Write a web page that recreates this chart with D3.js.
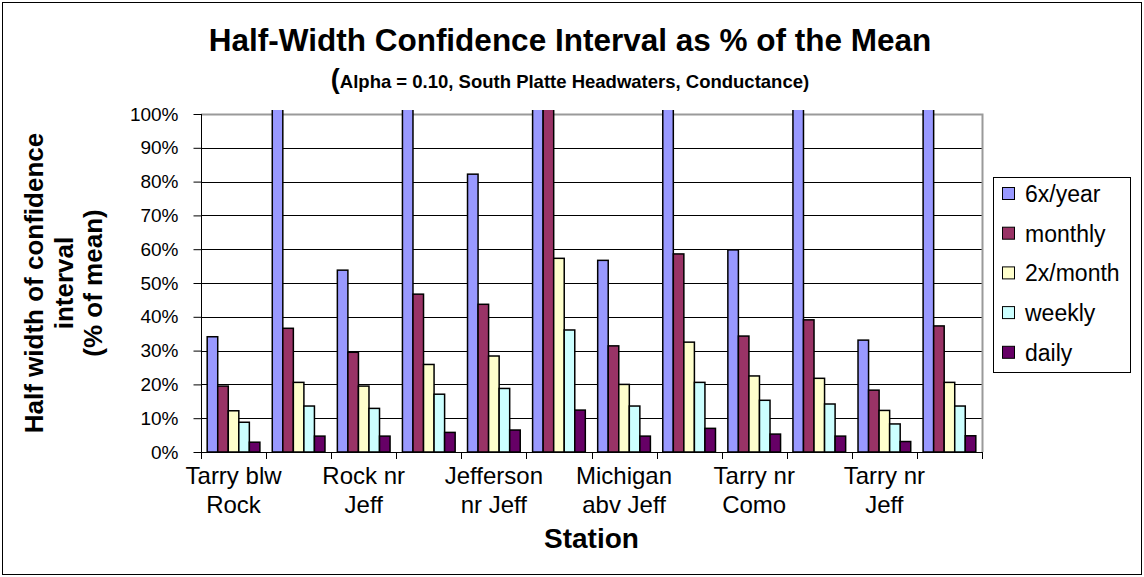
<!DOCTYPE html>
<html>
<head>
<meta charset="utf-8">
<script src="https://cdn.jsdelivr.net/npm/d3@7"></script>
<style>
  html, body { margin: 0; padding: 0; background: #fff; }
  svg { display: block; font-family: "Liberation Sans", Arial, sans-serif; }
</style>
</head>
<body>
<svg id="chart" width="1144" height="577"></svg>
<script>
// Station groups along the x axis (every other name is shown as a tick label)
const stations = [0, 1, 2, 3, 4, 5, 6, 7, 8, 9, 10, 11];
const stationLabels = [
  ["Tarry blw", "Rock"], null,
  ["Rock nr", "Jeff"], null,
  ["Jefferson", "nr Jeff"], null,
  ["Michigan", "abv Jeff"], null,
  ["Tarry nr", "Como"], null,
  ["Tarry nr", "Jeff"], null
];

// Sampling frequencies (series)
const seriesNames = ["6x/year", "monthly", "2x/month", "weekly", "daily"];
const seriesColors = ["#9999FF", "#993366", "#FFFFCC", "#CCFFFF", "#660066"];

// Half-width of the 90% confidence interval, % of mean, per station
const sixPerYear  = [34.1, 120, 53.8, 120, 82.2, 120, 56.7, 120, 59.8, 120, 33.1, 120];
const monthly     = [19.5, 36.6, 29.5, 46.7, 43.7, 120, 31.4, 58.6, 34.3, 39.1, 18.3, 37.3];
const twoPerMonth = [12.2, 20.6, 19.5, 25.9, 28.4, 57.3, 20.0, 32.5, 22.5, 21.8, 12.3, 20.6];
const weekly      = [8.8, 13.6, 12.9, 17.1, 18.8, 36.1, 13.6, 20.6, 15.3, 14.2, 8.3, 13.6];
const daily       = [2.9, 4.7, 4.7, 5.8, 6.5, 12.4, 4.7, 7.0, 5.3, 4.7, 3.1, 4.8];
const seriesValues = [sixPerYear, monthly, twoPerMonth, weekly, daily];

const yTicks = [0, 10, 20, 30, 40, 50, 60, 70, 80, 90, 100];

const svg = d3.select("#chart");
const W = 1144, H = 577;
const plot = { left: 201, right: 982, top: 114, bottom: 452 };

svg.append("rect").attr("x", 0).attr("y", 0).attr("width", W).attr("height", H).attr("fill", "#fff");
svg.append("rect").attr("x", 2.5).attr("y", 2.5).attr("width", W - 5).attr("height", H - 5)
  .attr("fill", "none").attr("stroke", "#000").attr("stroke-width", 1);

const x = d3.scaleBand().domain(stations).range([plot.left, plot.right]).padding(0);
const xs = d3.scaleBand().domain(seriesNames).range([0, x.bandwidth()]).paddingInner(0).paddingOuter(0.587);
const y = d3.scaleLinear().domain([0, 100]).range([plot.bottom, plot.top]);

// Gridlines
svg.append("g").selectAll("line").data(yTicks.filter(t => t > 0 && t < 100)).join("line")
  .attr("x1", plot.left).attr("x2", plot.right)
  .attr("y1", d => Math.round(y(d)) + 0.5).attr("y2", d => Math.round(y(d)) + 0.5)
  .attr("stroke", "#000").attr("stroke-width", 1);

// Plot area frame (top and right)
svg.append("path")
  .attr("d", `M${plot.left},${plot.top + 0.5}H${plot.right + 0.5}V${plot.bottom}`)
  .attr("fill", "none").attr("stroke", "#9a9a9a").attr("stroke-width", 2);

// Bars, clipped a little above the 100% line
svg.append("defs").append("clipPath").attr("id", "plotClip")
  .append("rect").attr("x", plot.left).attr("y", plot.top - 4)
  .attr("width", plot.right - plot.left).attr("height", plot.bottom - plot.top + 4);

const barData = [];
stations.forEach((s, i) => {
  seriesNames.forEach((name, k) => {
    barData.push({ station: s, series: name, value: seriesValues[k][i], color: seriesColors[k] });
  });
});

svg.append("g").attr("clip-path", "url(#plotClip)")
  .selectAll("rect").data(barData).join("rect")
  .attr("x", d => x(d.station) + xs(d.series))
  .attr("y", d => y(d.value))
  .attr("width", xs.bandwidth())
  .attr("height", d => plot.bottom - y(d.value))
  .attr("fill", d => d.color)
  .attr("stroke", "#000").attr("stroke-width", 1.5);

// Y axis
const yAxis = d3.axisLeft(y).tickValues(yTicks).tickFormat(d => d + "%").tickSize(8).tickPadding(15);
const yg = svg.append("g").attr("transform", `translate(${plot.left + 0.5},0)`).call(yAxis);
yg.select(".domain").attr("stroke", "#000").attr("d", `M0,${plot.top}V${plot.bottom + 0.5}`);
yg.selectAll(".tick line").attr("stroke", "#000");
yg.selectAll(".tick text").attr("font-size", 19).attr("fill", "#000")
  .attr("font-family", "'Liberation Sans', Arial, sans-serif");

// X axis: ticks between station groups
const xg = svg.append("g");
xg.append("line").attr("x1", plot.left).attr("x2", plot.right + 1)
  .attr("y1", plot.bottom + 0.5).attr("y2", plot.bottom + 0.5).attr("stroke", "#000");
const boundaries = stations.map(s => x(s)).concat([plot.right]);
xg.selectAll("line.tk").data(boundaries).join("line").attr("class", "tk")
  .attr("x1", d => Math.round(d) + 0.5).attr("x2", d => Math.round(d) + 0.5)
  .attr("y1", plot.bottom).attr("y2", plot.bottom + 7).attr("stroke", "#000");

const labelG = xg.selectAll("text.xl").data(stations.filter(s => stationLabels[s])).join("text")
  .attr("class", "xl")
  .attr("x", s => x(s) + x.bandwidth() / 2)
  .attr("y", 484)
  .attr("text-anchor", "middle")
  .attr("font-size", 24);
labelG.selectAll("tspan").data(s => stationLabels[s]).join("tspan")
  .attr("x", function () { return d3.select(this.parentNode).attr("x"); })
  .attr("dy", (d, i) => i === 0 ? 0 : 29)
  .text(d => d);

// Axis titles
svg.append("text").attr("x", (plot.left + plot.right) / 2).attr("y", 548)
  .attr("text-anchor", "middle").attr("font-weight", "bold").attr("font-size", 28).text("Station");

const yTitle = ["Half width of confidence", "interval", "(% of mean)"];
svg.append("g").attr("transform", `translate(0,${(plot.top + plot.bottom) / 2}) rotate(-90)`)
  .selectAll("text").data(yTitle).join("text")
  .attr("x", 0).attr("y", (d, i) => 43 + i * 29.5)
  .attr("text-anchor", "middle").attr("font-weight", "bold").attr("font-size", 26)
  .text(d => d);

// Title
svg.append("text").attr("x", 570).attr("y", 51).attr("text-anchor", "middle")
  .attr("font-weight", "bold").attr("font-size", 31.5)
  .text("Half-Width Confidence Interval as % of the Mean");
const sub = svg.append("text").attr("x", 570).attr("y", 88).attr("text-anchor", "middle")
  .attr("font-weight", "bold").attr("font-size", 18.5);
sub.append("tspan").attr("font-size", 27).text("(");
sub.append("tspan").text("Alpha = 0.10, South Platte Headwaters, Conductance)");

// Legend
const legend = svg.append("g");
legend.append("rect").attr("x", 993.5).attr("y", 177.5).attr("width", 137).attr("height", 195)
  .attr("fill", "#fff").attr("stroke", "#000").attr("stroke-width", 1);
const li = legend.selectAll("g.item").data(seriesNames).join("g").attr("class", "item")
  .attr("transform", (d, i) => `translate(1002,${194 + i * 39.7})`);
li.append("rect").attr("x", 0.5).attr("y", -6.5).attr("width", 12).attr("height", 12)
  .attr("fill", (d, i) => seriesColors[i]).attr("stroke", "#000").attr("stroke-width", 1);
li.append("text").attr("x", 23).attr("y", 8).attr("font-size", 23).text(d => d);
</script>
</body>
</html>
